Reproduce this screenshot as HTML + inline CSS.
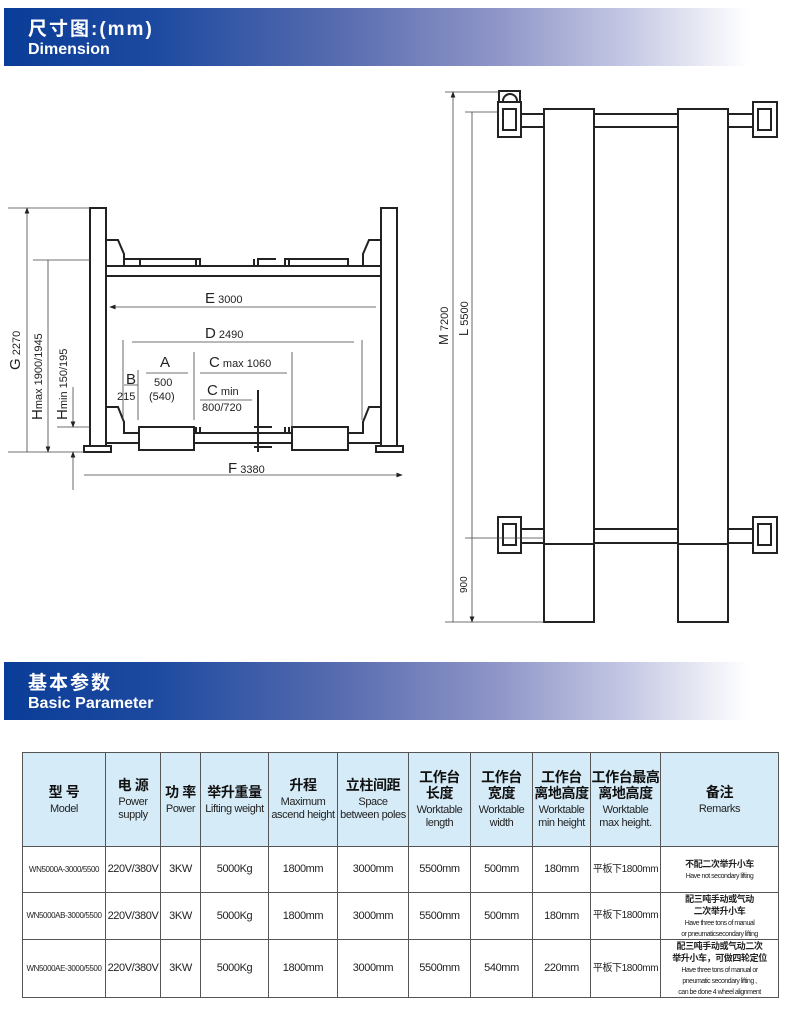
<!DOCTYPE html>
<html><head><meta charset="utf-8">
<style>
body{margin:0;background:#fff;width:800px;height:1018px;overflow:hidden;position:relative;font-family:"Liberation Sans","Noto Sans CJK SC",sans-serif}
.bar{position:absolute;left:4px;width:760px;height:58px;background:linear-gradient(90deg,#0a3d98 0%,#1d4aa0 20%,#5a6db0 45%,#8f96c8 65%,#c5c8e4 82%,#fff 98%);color:#fff;font-weight:bold}
.bar .t1{position:absolute;left:24px;top:6px;font-size:19px;letter-spacing:2px}
.bar .t2{position:absolute;left:24px;top:33px;font-size:16px}
table{position:absolute;left:22px;top:752px;border-collapse:collapse;width:757px;font-family:"Liberation Sans","Noto Sans CJK SC",sans-serif;table-layout:fixed}
td{border:1px solid #555;text-align:center;padding:0;font-size:11px;color:#222;line-height:1.15;letter-spacing:-0.4px;overflow:hidden}
tr.h td{background:#d5ebf7;height:93px}
.cn{font-size:14px;font-weight:bold;color:#111;display:block;margin-bottom:3px}
.rm{line-height:1}
.rm b{font-size:9px;line-height:12px}
.sm{font-size:7px;line-height:8px;letter-spacing:-0.5px}
</style></head><body>
<div class="bar" style="top:8px"><div class="t1">尺寸图:(mm)</div><div class="t2">Dimension</div></div>
<div class="bar" style="top:662px"><div class="t1">基本参数</div><div class="t2">Basic Parameter</div></div>

<svg width="800" height="660" style="position:absolute;left:0;top:0" xmlns="http://www.w3.org/2000/svg">
<defs><marker id="a" markerWidth="8" markerHeight="6" refX="7" refY="3" orient="auto-start-reverse"><path d="M0,0L8,3L0,6z" fill="#222"/></marker></defs>
<g fill="none" stroke="#222" stroke-width="2">
<rect x="90" y="208" width="16" height="238" fill="#fff"/>
<rect x="381" y="208" width="16" height="238" fill="#fff"/>
<rect x="84" y="446" width="27" height="6" fill="#fff"/>
<rect x="376" y="446" width="27" height="6" fill="#fff"/>
<path d="M106,240H118L124,254V266H363V254L369,240H381"/>
<rect x="106" y="266" width="275" height="10"/>
<path d="M124,259H140V266M140,259H196V266M196,259H200V266M254,259V266H258V259H276M285,266V259H289V266M289,259H348V266"/>
<path d="M106,407H118L124,422V433H139M194,433H292M348,433H363V422L369,407H381"/>
<path d="M106,443H139M194,443H292M348,443H381"/>
<rect x="139" y="427" width="55" height="23" fill="#fff"/>
<rect x="292" y="427" width="56" height="23" fill="#fff"/>
<path d="M196,427V433M200,427V433M289,427V433M285,427V433M254,427H272M254,447H272M258,390V452"/>
<rect x="544" y="109" width="50" height="513" fill="#fff"/>
<rect x="678" y="109" width="50" height="513" fill="#fff"/>
<path d="M544,544H594M678,544H728"/>
<path d="M521,114H544M521,127H544M594,114H678M594,127H678M728,114H753M728,127H753"/>
<path d="M521,529H544M521,543H544M594,529H678M594,543H678M728,529H753M728,543H753"/>
<rect x="498" y="102" width="23" height="35" fill="#fff"/><rect x="503" y="109" width="13" height="21"/>
<rect x="499" y="91" width="21" height="11"/><path d="M503,101A7,7 0 0 1 517,101"/>
<rect x="753" y="102" width="24" height="35" fill="#fff"/><rect x="758" y="109" width="13" height="21"/>
<rect x="498" y="517" width="23" height="36" fill="#fff"/><rect x="503" y="524" width="13" height="21"/>
<rect x="753" y="517" width="24" height="36" fill="#fff"/><rect x="758" y="524" width="13" height="21"/>
</g>
<g stroke="#444" stroke-width="0.8" fill="none">
<path d="M8,208H90M8,452H84M33,260H90M57,427H90M123,340V420M362,340V420M194,352V420M292,352V430M138,370V420"/>
<path d="M27,208V452M48,260V452" marker-start="url(#a)" marker-end="url(#a)"/>
<path d="M73,387V427" marker-end="url(#a)"/><path d="M73,490V452" marker-end="url(#a)"/>
<path d="M110,307H376M132,342H354M146,373H188M200,373H287M124,385H138M200,400H252M84,475H402" marker-start="url(#a)" marker-end="url(#a)"/>
<path d="M445,92H499M465,112H498M465,538H544M445,622H544"/>
<path d="M453,92V622M472,112V538M472,538V622" marker-start="url(#a)" marker-end="url(#a)"/>
</g>
<g fill="#222" font-family="Liberation Sans,sans-serif" font-size="11">
<text x="205" y="303"><tspan font-size="15">E</tspan> 3000</text>
<text x="205" y="338"><tspan font-size="15">D</tspan> 2490</text>
<text x="160" y="367" font-size="15">A</text>
<text x="209" y="367"><tspan font-size="15">C</tspan> max 1060</text>
<text x="126" y="384" font-size="15">B</text>
<text x="117" y="400">215</text>
<text x="154" y="386">500</text><text x="149" y="400">(540)</text>
<text x="207" y="395"><tspan font-size="15">C</tspan> min</text>
<text x="202" y="411">800/720</text>
<text x="228" y="473"><tspan font-size="15">F</tspan> 3380</text>
<text transform="translate(20,370) rotate(-90)"><tspan font-size="15">G</tspan> 2270</text>
<text transform="translate(42,420) rotate(-90)"><tspan font-size="15">H</tspan>max 1900/1945</text>
<text transform="translate(67,420) rotate(-90)"><tspan font-size="15">H</tspan>min 150/195</text>
<text transform="translate(448,345) rotate(-90)"><tspan font-size="13">M</tspan> 7200</text>
<text transform="translate(468,336) rotate(-90)"><tspan font-size="13">L</tspan> 5500</text>
<text transform="translate(467,593) rotate(-90)" font-size="10">900</text>
</g>
</svg>

<table>
<colgroup><col style="width:83px"><col style="width:55px"><col style="width:40px"><col style="width:68px"><col style="width:69px"><col style="width:71px"><col style="width:62px"><col style="width:62px"><col style="width:58px"><col style="width:70px"><col></colgroup>
<tr class="h">
<td><span class="cn">型 号</span>Model</td>
<td><span class="cn">电 源</span>Power<br>supply</td>
<td><span class="cn">功 率</span>Power</td>
<td><span class="cn">举升重量</span>Lifting weight</td>
<td><span class="cn">升程</span>Maximum<br>ascend height</td>
<td><span class="cn">立柱间距</span>Space<br>between poles</td>
<td><span class="cn">工作台<br>长度</span>Worktable<br>length</td>
<td><span class="cn">工作台<br>宽度</span>Worktable<br>width</td>
<td><span class="cn">工作台<br>离地高度</span>Worktable<br>min height</td>
<td><span class="cn">工作台最高<br>离地高度</span>Worktable<br>max height.</td>
<td><span class="cn">备注</span>Remarks</td>
</tr>
<tr style="height:46px"><td style="font-size:8px">WN5000A-3000/5500</td><td>220V/380V</td><td>3KW</td><td>5000Kg</td><td>1800mm</td><td>3000mm</td><td>5500mm</td><td>500mm</td><td>180mm</td><td style="font-size:10px">平板下1800mm</td><td class="rm"><b>不配二次举升小车</b><br><span class="sm">Have not secondary lifting</span></td></tr>
<tr style="height:47px"><td style="font-size:8px">WN5000AB-3000/5500</td><td>220V/380V</td><td>3KW</td><td>5000Kg</td><td>1800mm</td><td>3000mm</td><td>5500mm</td><td>500mm</td><td>180mm</td><td style="font-size:10px">平板下1800mm</td><td class="rm"><b>配三吨手动或气动<br>二次举升小车</b><br><span class="sm">Have three tons of manual<br>or pneumaticsecondary lifting</span></td></tr>
<tr style="height:57px"><td style="font-size:8px">WN5000AE-3000/5500</td><td>220V/380V</td><td>3KW</td><td>5000Kg</td><td>1800mm</td><td>3000mm</td><td>5500mm</td><td>540mm</td><td>220mm</td><td style="font-size:10px">平板下1800mm</td><td class="rm"><b>配三吨手动或气动二次<br>举升小车，可做四轮定位</b><br><span class="sm">Have three tons of manual or<br>pneumatic secondary lifting ,<br>can be done 4 wheel alignment</span></td></tr>
</table>
</body></html>
